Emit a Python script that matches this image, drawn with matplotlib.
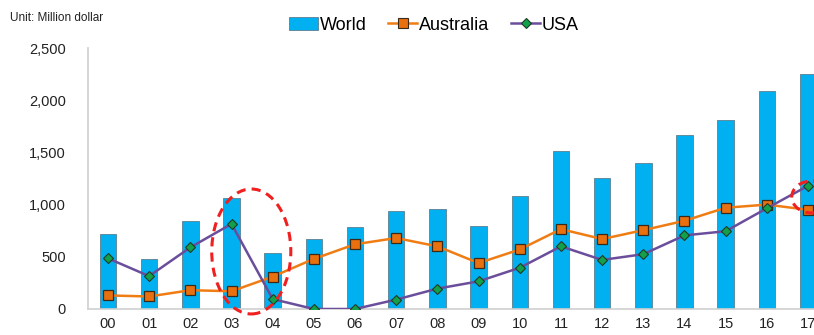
import matplotlib
matplotlib.use("Agg")
import matplotlib.pyplot as plt
from matplotlib.patches import Ellipse, Patch
from matplotlib.lines import Line2D

plt.rcParams['font.family'] = ['Liberation Sans', 'DejaVu Sans']

years = ['00', '01', '02', '03', '04', '05', '06', '07', '08', '09',
         '10', '11', '12', '13', '14', '15', '16', '17']
world = [720, 480, 845, 1065, 540, 670, 785, 935, 960, 795,
         1080, 1515, 1255, 1395, 1670, 1810, 2090, 2255]
australia = [130, 120, 180, 170, 310, 480, 620, 680, 600, 440,
             570, 765, 670, 755, 845, 970, 1000, 950]
usa = [485, 315, 590, 815, 95, 0, 0, 90, 195, 265,
       395, 600, 470, 525, 705, 745, 965, 1180]
yticks = [0, 500, 1000, 1500, 2000, 2500]
ytick_labels = ['0', '500', '1,000', '1,500', '2,000', '2,500']

W, H = 814, 335
fig = plt.figure(figsize=(W / 100, H / 100), dpi=100)
ax = fig.add_axes([88 / W, 26 / H, 740 / W, 261 / H])

x = list(range(len(years)))
bar_c = '#00B0F0'
aus_c = '#F07D14'
usa_line = '#6B4E9B'
usa_mk = '#12A04A'

ax.bar(x, world, width=0.4, color=bar_c, edgecolor='#5a7f90', linewidth=0.6, zorder=2)
ax.plot(x, australia, color=aus_c, lw=1.8, marker='s', ms=7.8,
        markerfacecolor='#E8700F', markeredgecolor='#3a2a1a', markeredgewidth=0.9, zorder=3)
ax.plot(x, usa, color=usa_line, lw=1.8, marker='D', ms=5.5,
        markerfacecolor=usa_mk, markeredgecolor='#1f3a25', markeredgewidth=0.8, zorder=4)

ax.set_xlim(-0.485, 17.485)
ax.set_ylim(0, 2500)
ax.set_xticks(x)
ax.set_xticklabels(years)
ax.set_yticks(yticks)
ax.set_yticklabels(ytick_labels)
ax.tick_params(axis='both', length=0, labelsize=10.5, colors='#222222')
ax.tick_params(axis='y', pad=16)
ax.tick_params(axis='x', pad=6)
for s in ['top', 'right']:
    ax.spines[s].set_visible(False)
for s in ['left', 'bottom']:
    ax.spines[s].set_color('#d0d0d0')
    ax.spines[s].set_linewidth(1.2)

# highlight rings
ax.add_patch(Ellipse((3.48, 551), 1.92, 1197, fill=False, edgecolor='#F02020',
                     linestyle=(0, (3, 2)), linewidth=2.2, zorder=5, clip_on=False))
ax.add_patch(Ellipse((17.09, 1073), 0.97, 306, fill=False, edgecolor='#F02020',
                     linestyle=(0, (3, 2)), linewidth=2.2, zorder=5, clip_on=False))

handles = [
    Patch(facecolor=bar_c, edgecolor='#5a7f90', linewidth=0.6),
    Line2D([], [], color=aus_c, lw=1.8, marker='s', ms=7,
           markerfacecolor='#E8700F', markeredgecolor='#3a2a1a', markeredgewidth=0.8),
    Line2D([], [], color=usa_line, lw=1.8, marker='D', ms=5,
           markerfacecolor=usa_mk, markeredgecolor='#1f3a25', markeredgewidth=0.8),
]
fig.legend(handles, ['World', 'Australia', 'USA'], loc='center',
           bbox_to_anchor=(434 / W, 1 - 25 / H), ncol=3, frameon=False,
           fontsize=13, handlelength=1.6, handletextpad=0.1, columnspacing=1.2)

fig.text(10 / W, 1 - 18 / H, 'Unit: Million dollar', fontsize=8.5,
         va='center', ha='left', color='#222222')

fig.savefig('out.png', dpi=100)
